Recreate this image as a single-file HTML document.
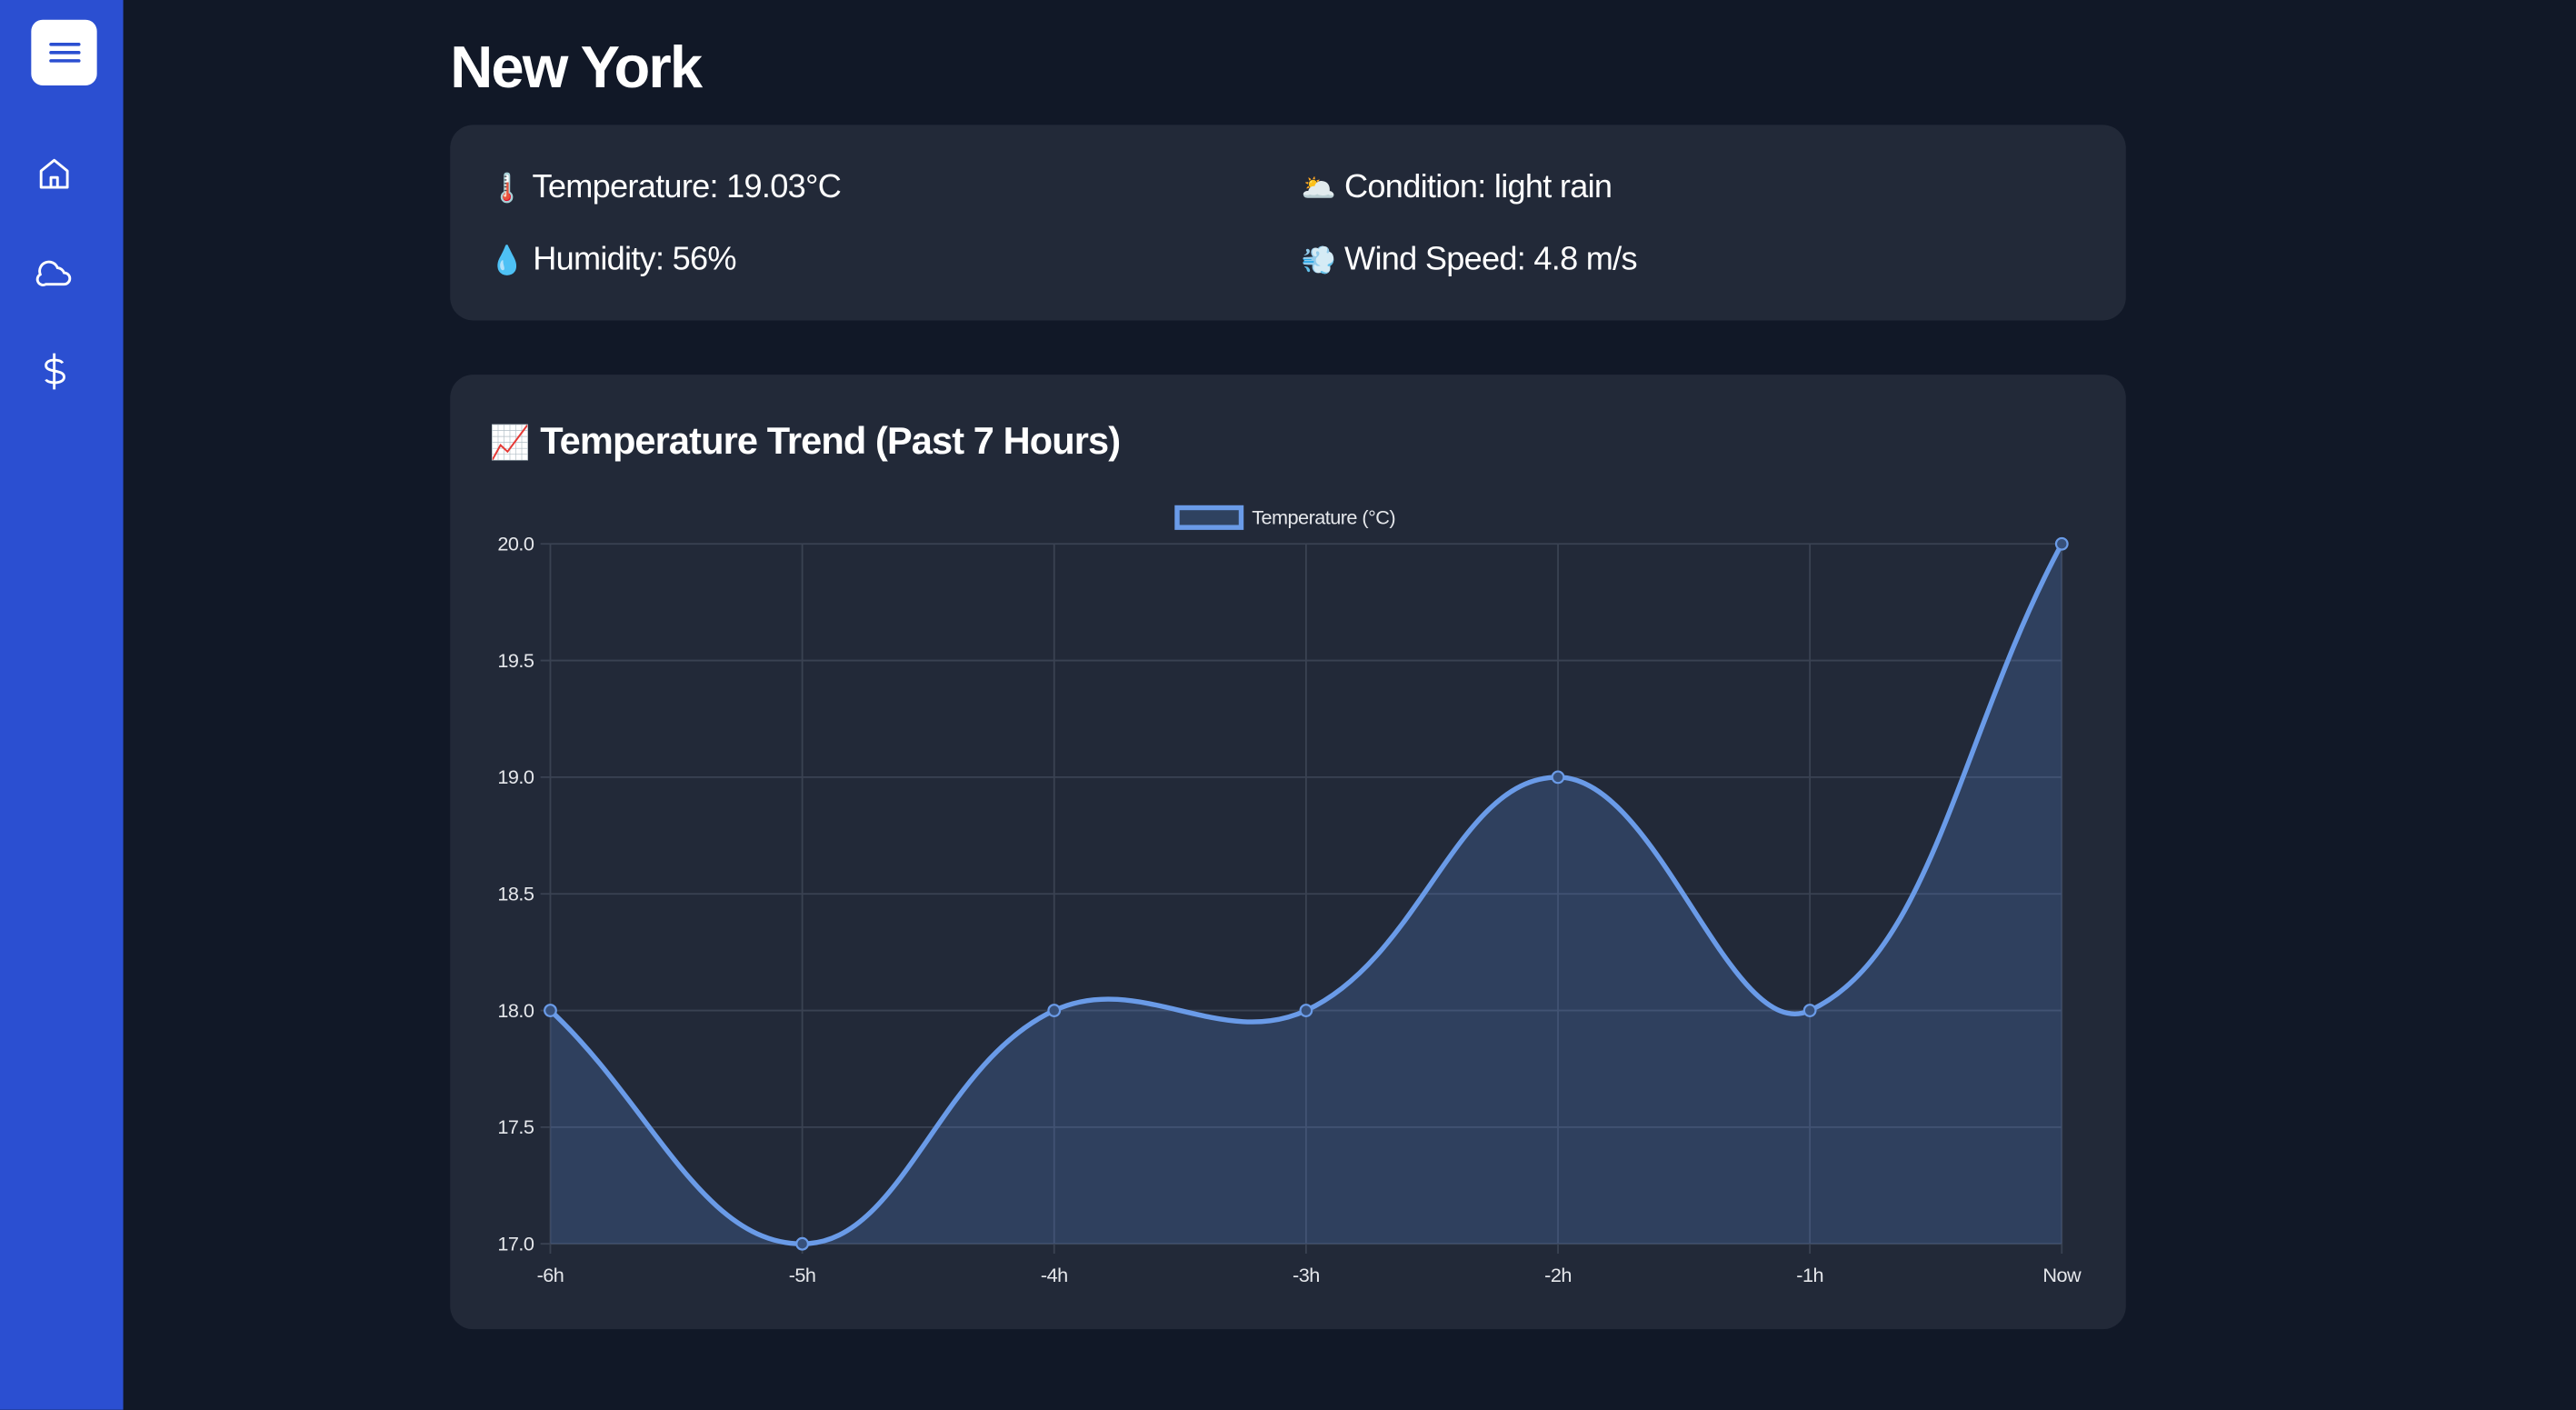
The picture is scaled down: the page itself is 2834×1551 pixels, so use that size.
<!DOCTYPE html>
<html><head><meta charset="utf-8">
<style>
html,body{margin:0;padding:0;width:2834px;height:1550px;overflow:hidden;background:#111827;}
#root{position:absolute;left:0;top:0;width:1568px;height:858px;transform:scale(1.80740);transform-origin:0 0;font-family:"Liberation Sans","Noto Sans CJK SC",sans-serif;color:#fff;}
.side{position:absolute;left:0;top:0;width:75px;height:858px;background:#2b4fd1;}
.menu{position:absolute;left:19px;top:12px;width:40px;height:40px;background:#fff;border-radius:7px;}
.menu i{position:absolute;left:11px;width:19px;height:2px;background:#2b4fd1;border-radius:1px;}
.card{position:absolute;left:274px;width:1020px;background:#222938;border-radius:14px;}
.info{position:absolute;font-size:20px;letter-spacing:-0.4px;}
.info span{font-size:17px;letter-spacing:0;}
</style></head><body>
<div id="root">
<div class="side">
 <div class="menu"><i style="top:14px"></i><i style="top:19px"></i><i style="top:24px"></i></div>
 <svg style="position:absolute;left:22px;top:95px" width="22" height="22" viewBox="0 0 22 22" fill="none" stroke="#fff" stroke-width="1.6" stroke-linejoin="round"><path d="M3 9 L11 2.5 L19 9 V19 H3 Z"/><path d="M9 19 V13 H13 V19"/></svg>
 <svg style="position:absolute;left:21px;top:155px" width="24" height="22" viewBox="0 0 24 22" fill="none" stroke="#fff" stroke-width="1.6"><path d="M7 18 H18 A3.5 3.5 0 0 0 18 11 A5 5 0 0 0 14 8 A5.5 5.5 0 0 0 3.5 12 A3.2 3.2 0 0 0 7 18 Z"/></svg>
 <svg style="position:absolute;left:22px;top:214px" width="22" height="24" viewBox="0 0 22 24" fill="none" stroke="#fff" stroke-width="1.6"><path d="M11 1 V23"/><path d="M16 7 C15 4.5 6 4 6 8.5 C6 13 17 10.5 17 15.5 C17 20 7 19.5 6 17"/></svg>
</div>
<div style="position:absolute;left:274px;top:20px;font-size:36px;font-weight:bold;letter-spacing:-1px">New York</div>
<div class="card" style="top:76px;height:119px">
 <div class="info" style="left:24px;top:27px"><span>🌡️</span> Temperature: 19.03°C</div>
 <div class="info" style="left:518px;top:27px"><span>🌥️</span> Condition: light rain</div>
 <div class="info" style="left:24px;top:71px"><span>💧</span> Humidity: 56%</div>
 <div class="info" style="left:518px;top:71px"><span>💨</span> Wind Speed: 4.8 m/s</div>
</div>
<div class="card" style="top:228px;height:581px">
 <div style="position:absolute;left:24px;top:27px;font-size:23px;font-weight:bold;letter-spacing:-0.5px"><span style="font-size:20px;letter-spacing:0">📈</span> Temperature Trend (Past 7 Hours)</div>
</div>
<svg id="chart" style="position:absolute;left:0;top:0" width="1568" height="858" font-family="Liberation Sans, sans-serif"></svg>
</div>
<script>
const labels=["-6h","-5h","-4h","-3h","-2h","-1h","Now"];
const temps=[18,17,18,18,19,18,20];
const yTicks=[17.0,17.5,18.0,18.5,19.0,19.5,20.0];
const yMin=17,yMax=20;
const X0=335,X1=1255,Y0=757,Y1=331;
const NS="http://www.w3.org/2000/svg";
const svg=document.getElementById('chart');
function xs(i){return X0+(X1-X0)*i/(labels.length-1);}
function ys(v){return Y0-(Y0-Y1)*(v-yMin)/(yMax-yMin);}
function mk(t,a,p){const e=document.createElementNS(NS,t);for(const k in a)e.setAttribute(k,a[k]);(p||svg).appendChild(e);return e;}
yTicks.forEach(v=>{
 const l=mk('line',{x1:X0-6,x2:X1,y1:ys(v),y2:ys(v),stroke:'#3a4252','stroke-width':1});
 
 
 const t=mk('text',{x:X0-10,y:ys(v)+4,'text-anchor':'end','font-size':12,fill:'#e5e7eb','letter-spacing':-0.3});
 t.textContent=v.toFixed(1);
 
 
});
labels.forEach((lb,i)=>{
 const l=mk('line',{x1:xs(i),x2:xs(i),y1:Y1,y2:Y0+6,stroke:'#3a4252','stroke-width':1});
 
 
 const t=mk('text',{x:xs(i),y:Y0+23,'text-anchor':'middle','font-size':12,fill:'#e5e7eb','letter-spacing':-0.3});
 t.textContent=lb;
 
 
});
const pts=temps.map((v,i)=>({x:xs(i),y:ys(v)}));
const T=0.4;
function cps(p,c,n){
 const d01=Math.hypot(c.x-p.x,c.y-p.y),d12=Math.hypot(n.x-c.x,n.y-c.y);
 let fa=d01/(d01+d12),fb=d12/(d01+d12);fa=isNaN(fa)?0:fa;fb=isNaN(fb)?0:fb;
 fa*=T;fb*=T;
 return {p:{x:c.x-fa*(n.x-p.x),y:c.y-fa*(n.y-p.y)},n:{x:c.x+fb*(n.x-p.x),y:c.y+fb*(n.y-p.y)}};
}
const cp=pts.map((c,i)=>cps(pts[Math.max(0,i-1)],c,pts[Math.min(pts.length-1,i+1)]));
let d=`M${pts[0].x},${pts[0].y}`;
for(let i=1;i<pts.length;i++){d+=` C${cp[i-1].n.x},${cp[i-1].n.y} ${cp[i].p.x},${cp[i].p.y} ${pts[i].x},${pts[i].y}`;}
const area=mk('path',{d:d+` L${X1},${Y0} L${X0},${Y0} Z`,fill:'rgba(96,145,230,0.22)'});


const line=mk('path',{d:d,fill:'none',stroke:'#6a9be8','stroke-width':3});


pts.forEach(p=>{
 const c=mk('circle',{cx:p.x,cy:p.y,r:3.5,fill:'#37507a',stroke:'#6a9be8','stroke-width':1.2});
 
 
});
const lg=mk('g',{});


mk('rect',{x:716.5,y:309,width:39,height:12,fill:'#2f4260',stroke:'#6a9be8','stroke-width':3},lg);
const lt=mk('text',{x:762,y:319,'font-size':12,fill:'#e5e7eb','letter-spacing':-0.3},lg);
lt.textContent='Temperature (°C)';
</script>
</body></html>
